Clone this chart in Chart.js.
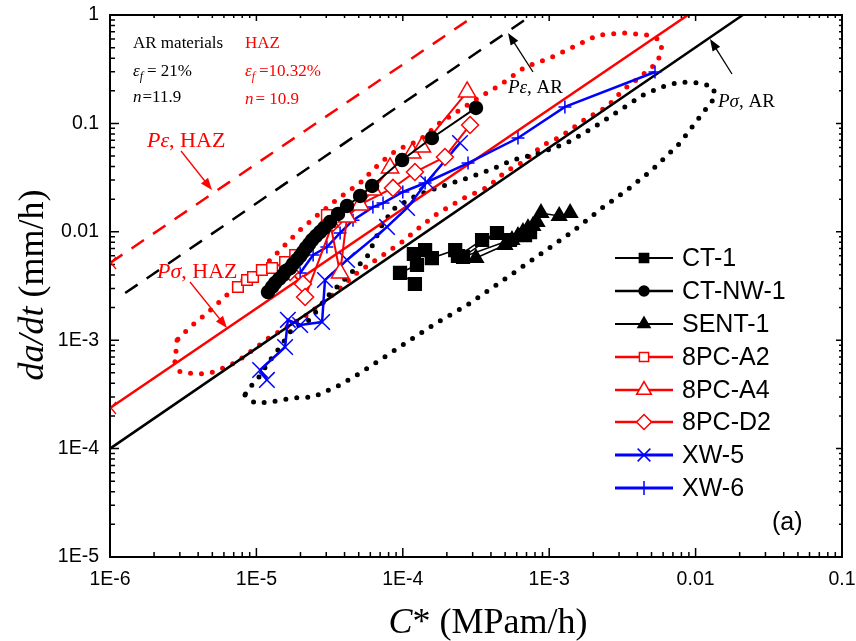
<!DOCTYPE html>
<html>
<head>
<meta charset="utf-8">
<script src="https://cdn.jsdelivr.net/npm/chart.js@4.4.1/dist/chart.umd.min.js"></script>
<style>
  html, body { margin: 0; padding: 0; background: #fff; }
  canvas { display: block; }
</style>
</head>
<body>
<canvas id="chart" width="856" height="641"></canvas>
<script>
// ---- axes ----
const xTickValues = [1e-6, 1e-5, 1e-4, 1e-3, 1e-2, 1e-1];
const xTickLabels = ['1E-6', '1E-5', '1E-4', '1E-3', '0.01', '0.1'];
const yTickValues = [1e-5, 1e-4, 1e-3, 1e-2, 1e-1, 1];
const yTickLabels = ['1E-5', '1E-4', '1E-3', '0.01', '0.1', '1'];

// ---- creep crack growth data: C* (MPa·m/h) vs da/dt (mm/h) ----
const seriesNames = ['CT-1', 'CT-NW-1', 'SENT-1', '8PC-A2', '8PC-A4', '8PC-D2', 'XW-5', 'XW-6'];

const ct1C    = [1.21e-4, 9.57e-5, 1.25e-4, 1.19e-4, 1.42e-4, 1.58e-4, 2.28e-4, 2.38e-4, 3.48e-4, 4.40e-4, 2.58e-4, 5.40e-4, 6.84e-4, 7.40e-4];
const ct1Rate = [3.30e-3, 4.17e-3, 4.94e-3, 6.24e-3, 6.79e-3, 5.73e-3, 6.79e-3, 5.98e-3, 8.40e-3, 9.75e-3, 5.86e-3, 8.40e-3, 9.34e-3, 9.95e-3];

const ctnwC    = [1.20e-5, 1.28e-5, 1.34e-5, 1.43e-5, 1.52e-5, 1.59e-5, 1.70e-5, 1.78e-5, 1.89e-5, 1.99e-5, 2.08e-5, 2.18e-5, 2.29e-5, 2.40e-5, 2.55e-5, 2.72e-5, 2.90e-5, 3.18e-5, 3.61e-5, 4.16e-5, 5.11e-5, 6.17e-5, 9.89e-5, 1.58e-4, 3.16e-4];
const ctnwRate = [2.78e-3, 3.10e-3, 3.37e-3, 3.67e-3, 3.99e-3, 4.35e-3, 4.63e-3, 5.05e-3, 5.50e-3, 5.98e-3, 6.51e-3, 7.09e-3, 7.71e-3, 8.40e-3, 9.14e-3, 9.95e-3, 1.08e-2, 1.23e-2, 1.46e-2, 1.73e-2, 2.14e-2, 2.65e-2, 4.59e-2, 7.33e-2, 0.139];

const sentC    = [3.16e-4, 4.99e-4, 5.57e-4, 6.12e-4, 6.62e-4, 7.16e-4, 7.74e-4, 8.26e-4, 8.79e-4, 1.17e-3, 1.39e-3];
const sentRate = [5.73e-3, 7.55e-3, 8.40e-3, 9.14e-3, 9.95e-3, 1.08e-2, 1.13e-2, 1.23e-2, 1.49e-2, 1.40e-2, 1.49e-2];

const a2C    = [7.48e-6, 8.63e-6, 9.48e-6, 1.09e-5, 1.28e-5, 1.57e-5, 1.84e-5, 3.03e-5];
const a2Rate = [3.10e-3, 3.59e-3, 3.83e-3, 4.44e-3, 4.63e-3, 5.26e-3, 6.11e-3, 1.43e-2];

const a4C    = [3.18e-5, 3.73e-5, 4.16e-5, 5.11e-5, 6.25e-5, 8.18e-5, 1.16e-4, 1.35e-4, 2.75e-4];
const a4Rate = [1.23e-2, 4.17e-3, 1.37e-2, 1.77e-2, 2.43e-2, 3.88e-2, 5.33e-2, 6.05e-2, 0.195];

const d2C    = [1.70e-5, 2.08e-5, 2.15e-5, 3.33e-5, 3.91e-5, 8.57e-5, 1.21e-4, 1.94e-4, 2.88e-4];
const d2Rate = [4.26e-3, 3.30e-3, 2.50e-3, 1.21e-2, 1.49e-2, 2.54e-2, 3.56e-2, 4.90e-2, 9.67e-2];

const xw5C    = [1.18e-5, 1.06e-5, 1.57e-5, 1.64e-5, 1.99e-5, 2.81e-5, 2.94e-5, 4.16e-5, 7.80e-5, 1.07e-4, 1.46e-4, 2.46e-4];
const xw5Rate = [4.30e-4, 5.31e-4, 8.65e-4, 1.54e-3, 1.38e-3, 1.47e-3, 3.59e-3, 5.50e-3, 1.11e-2, 1.66e-2, 2.88e-2, 6.59e-2];

const xw6C    = [1.99e-5, 2.44e-5, 3.03e-5, 3.73e-5, 4.57e-5, 6.25e-5, 7.33e-5, 1.00e-4, 1.42e-4, 2.79e-4, 6.12e-4, 1.28e-3, 5.28e-3];
const xw6Rate = [4.17e-3, 6.11e-3, 7.24e-3, 9.75e-3, 1.28e-2, 1.69e-2, 1.84e-2, 2.33e-2, 2.82e-2, 4.31e-2, 7.33e-2, 0.142, 0.298];

// ---- scatter bands (closed outlines) ----
const arBandC = [8.36e-6, 9.77e-6, 1.24e-5, 1.78e-5, 2.44e-5, 3.73e-5, 5.11e-5, 7.33e-5, 1.07e-4, 1.74e-4, 2.75e-4, 4.06e-4, 5.83e-4, 8.93e-4, 1.43e-3, 2.30e-3, 3.40e-3, 5.04e-3, 7.82e-3, 1.07e-2, 1.36e-2, 1.32e-2, 1.07e-2, 7.82e-3, 5.89e-3, 4.38e-3, 3.05e-3, 1.99e-3, 1.32e-3, 8.65e-4, 5.66e-4, 3.94e-4, 2.75e-4, 1.88e-4, 1.25e-4, 8.85e-5, 7.33e-5, 5.69e-5, 4.16e-5, 3.03e-5, 2.32e-5, 1.78e-5, 1.45e-5, 1.20e-5, 1.01e-5, 8.63e-6, 8.36e-6];
const arBandRate = [3.12e-4, 2.63e-4, 2.69e-4, 2.93e-4, 2.99e-4, 3.86e-4, 4.98e-4, 6.85e-4, 9.62e-4, 1.47e-3, 2.11e-3, 3.03e-3, 4.26e-3, 6.37e-3, 9.95e-3, 1.66e-2, 2.43e-2, 3.72e-2, 6.59e-2, 0.115, 0.175, 0.217, 0.236, 0.241, 0.217, 0.183, 0.133, 9.08e-2, 6.59e-2, 5.33e-2, 4.59e-2, 3.72e-2, 3.13e-2, 2.65e-2, 2.18e-2, 1.66e-2, 1.21e-2, 5.86e-3, 3.83e-3, 2.50e-3, 1.54e-3, 1.30e-3, 8.65e-4, 6.17e-4, 4.30e-4, 3.47e-4, 3.12e-4];

const hazBandC = [2.87e-6, 2.82e-6, 2.74e-6, 3.01e-6, 3.93e-6, 4.82e-6, 5.92e-6, 7.36e-6, 9.04e-6, 1.24e-5, 1.70e-5, 2.22e-5, 3.18e-5, 4.86e-5, 7.33e-5, 9.89e-5, 1.37e-4, 1.71e-4, 2.54e-4, 3.82e-4, 4.99e-4, 6.62e-4, 9.08e-4, 1.19e-3, 1.81e-3, 2.48e-3, 3.19e-3, 4.17e-3, 5.44e-3, 5.89e-3, 5.71e-3, 4.66e-3, 3.30e-3, 2.15e-3, 1.46e-3, 1.01e-3, 6.84e-4, 4.61e-4, 3.27e-4, 2.46e-4, 1.79e-4, 1.31e-4, 9.12e-5, 6.98e-5, 5.11e-5, 3.73e-5, 2.72e-5, 1.99e-5, 1.45e-5, 1.11e-5, 8.09e-6, 6.29e-6, 4.61e-6, 3.52e-6, 2.87e-6];
const hazBandRate = [1.00e-3, 7.78e-4, 6.56e-4, 5.09e-4, 4.88e-4, 4.98e-4, 5.54e-4, 6.30e-4, 7.78e-4, 1.07e-3, 1.38e-3, 1.71e-3, 2.50e-3, 4.17e-3, 6.11e-3, 8.05e-3, 1.16e-2, 1.46e-2, 2.01e-2, 2.59e-2, 3.56e-2, 4.41e-2, 6.32e-2, 7.50e-2, 0.112, 0.142, 0.203, 0.268, 0.361, 0.475, 0.588, 0.654, 0.682, 0.654, 0.507, 0.401, 0.331, 0.226, 0.171, 0.133, 0.101, 7.03e-2, 5.69e-2, 4.31e-2, 2.82e-2, 2.09e-2, 1.49e-2, 1.04e-2, 6.79e-3, 4.73e-3, 3.59e-3, 2.61e-3, 1.78e-3, 1.32e-3, 1.00e-3];

// ---- predicted lines (end points) ----
const pSigmaArC = [1e-6, 2.1e-2];      const pSigmaArRate = [1e-4, 1];
const pSigmaHazC = [1e-6, 8.87e-3];    const pSigmaHazRate = [2.37e-4, 1];
const pEpsArC = [1.27e-6, 6.8e-4];     const pEpsArRate = [2.72e-3, 0.90];
const pEpsHazC = [1e-6, 3.15e-4];      const pEpsHazRate = [5.15e-3, 1];

const pts = (xs, ys) => xs.map((v, i) => ({ x: v, y: ys[i] }));

const RED = '#ff0000', BLUE = '#0000ff', BLACK = '#000000';

// marker / line styles for the eight test series
const seriesStyles = [
  { c: ct1C, r: ct1Rate, color: BLACK, style: 'rect', radius: 9, fill: BLACK, lw: 1.5, lr: 6.5 },
  { c: ctnwC, r: ctnwRate, color: BLACK, style: 'circle', radius: 6.5, fill: BLACK, lw: 2, lr: 5 },
  { c: sentC, r: sentRate, color: BLACK, style: 'triangle', radius: 8.5, fill: BLACK, lw: 1.5, lr: 7 },
  { c: a2C, r: a2Rate, color: RED, style: 'rect', radius: 7.5, fill: '#ffffff', lw: 2, lr: 6.5 },
  { c: a4C, r: a4Rate, color: RED, style: 'triangle', radius: 10, fill: '#ffffff', lw: 2, lr: 8.5 },
  { c: d2C, r: d2Rate, color: RED, style: 'rectRot', radius: 8.5, fill: '#ffffff', lw: 2, lr: 7.5 },
  { c: xw5C, r: xw5Rate, color: BLUE, style: 'crossRot', radius: 11, fill: BLUE, lw: 2.5, lr: 9 },
  { c: xw6C, r: xw6Rate, color: BLUE, style: 'cross', radius: 6.5, fill: BLUE, lw: 2.5, lr: 7 }
];

const datasets = [];
seriesStyles.forEach((s, i) => {
  datasets.push({
    label: seriesNames[i],
    data: pts(s.c, s.r),
    showLine: true,
    borderColor: s.color,
    borderWidth: s.lw,
    pointStyle: s.style,
    pointRadius: s.radius,
    pointBorderColor: s.color,
    pointBackgroundColor: s.fill,
    pointBorderWidth: 1.5,
    order: i + 1
  });
});

const band = (label, data, color) => ({
  label, data, showLine: true, borderColor: color, borderWidth: 5,
  borderDash: [0, 11], borderCapStyle: 'round', pointRadius: 0, order: 20
});
datasets.push(band('AR scatter band', pts(arBandC, arBandRate), BLACK));
datasets.push(band('HAZ scatter band', pts(hazBandC, hazBandRate), RED));

const trend = (label, data, color, dash) => ({
  label, data, showLine: true, borderColor: color, borderWidth: 2.5,
  borderDash: dash, pointRadius: 0, order: 15
});
datasets.push(trend('Pσ, AR', pts(pSigmaArC, pSigmaArRate), BLACK, []));
datasets.push(trend('Pσ, HAZ', pts(pSigmaHazC, pSigmaHazRate), RED, []));
datasets.push(trend('Pε, AR', pts(pEpsArC, pEpsArRate), BLACK, [15, 11]));
datasets.push(trend('Pε, HAZ', pts(pEpsHazC, pEpsHazRate), RED, [15, 11]));

const SERIF = '"Liberation Serif", "Times New Roman", serif';
const SANS = '"Liberation Sans", Arial, sans-serif';

function drawRuns(ctx, x, y, runs) {
  let cx = x;
  for (const r of runs) {
    ctx.font = r.f;
    ctx.fillStyle = r.c;
    ctx.fillText(r.t, cx, y + (r.dy || 0));
    cx += ctx.measureText(r.t).width + (r.gap || 0);
  }
  return cx;
}
function runsWidth(ctx, runs) {
  let w = 0;
  for (const r of runs) { ctx.font = r.f; w += ctx.measureText(r.t).width + (r.gap || 0); }
  return w;
}
function arrow(ctx, x0, y0, x1, y1, color) {
  const ang = Math.atan2(y1 - y0, x1 - x0);
  const len = 12, half = 4.5;
  ctx.strokeStyle = color; ctx.fillStyle = color; ctx.lineWidth = 1.3;
  ctx.beginPath();
  ctx.moveTo(x0, y0);
  ctx.lineTo(x1 - Math.cos(ang) * len * 0.8, y1 - Math.sin(ang) * len * 0.8);
  ctx.stroke();
  ctx.beginPath();
  ctx.moveTo(x1, y1);
  ctx.lineTo(x1 - Math.cos(ang) * len - Math.sin(ang) * half, y1 - Math.sin(ang) * len + Math.cos(ang) * half);
  ctx.lineTo(x1 - Math.cos(ang) * len + Math.sin(ang) * half, y1 - Math.sin(ang) * len - Math.cos(ang) * half);
  ctx.closePath();
  ctx.fill();
}

const decorations = {
  id: 'decorations',
  afterDraw(chart) {
    const { ctx, chartArea: a, scales } = chart;
    const xs = scales.x, ys = scales.y;
    ctx.save();

    // frame
    ctx.strokeStyle = BLACK;
    ctx.lineWidth = 2;
    ctx.strokeRect(a.left, a.top, a.right - a.left, a.bottom - a.top);

    // inward tick marks on all four sides
    ctx.lineWidth = 1.5;
    ctx.beginPath();
    for (let d = -6; d <= -1; d++) {
      for (let m = 1; m <= 9; m++) {
        const v = m * Math.pow(10, d);
        if (v > 0.1000001) break;
        const px = xs.getPixelForValue(v);
        const major = m === 1;
        ctx.moveTo(px, a.bottom); ctx.lineTo(px, a.bottom - (major ? 9 : 5));
        ctx.moveTo(px, a.top); ctx.lineTo(px, a.top + (major ? 6 : 3));
      }
    }
    for (let d = -5; d <= 0; d++) {
      for (let m = 1; m <= 9; m++) {
        const v = m * Math.pow(10, d);
        if (v > 1.000001) break;
        const py = ys.getPixelForValue(v);
        const major = m === 1;
        ctx.moveTo(a.left, py); ctx.lineTo(a.left + (major ? 9 : 5), py);
        ctx.moveTo(a.right, py); ctx.lineTo(a.right - (major ? 6 : 3), py);
      }
    }
    ctx.stroke();

    // small chevrons where the HAZ lines meet the left axis
    ctx.strokeStyle = RED; ctx.lineWidth = 1.3;
    [pSigmaHazRate[0], pEpsHazRate[0]].forEach(v => {
      const py = ys.getPixelForValue(v);
      ctx.beginPath();
      ctx.moveTo(a.left + 6, py - 6); ctx.lineTo(a.left + 1, py); ctx.lineTo(a.left + 6, py + 6);
      ctx.stroke();
    });

    // axis titles
    ctx.textBaseline = 'alphabetic';
    const xt = [
      { t: 'C', f: 'italic 36px ' + SERIF, c: BLACK },
      { t: '* (MPam/h)', f: '36px ' + SERIF, c: BLACK }
    ];
    drawRuns(ctx, 488 - runsWidth(ctx, xt) / 2, 633, xt);
    const yt = [
      { t: 'da/dt', f: 'italic 36px ' + SERIF, c: BLACK },
      { t: ' (mm/h)', f: '36px ' + SERIF, c: BLACK }
    ];
    ctx.save();
    ctx.translate(43, 285);
    ctx.rotate(-Math.PI / 2);
    drawRuns(ctx, -runsWidth(ctx, yt) / 2, 0, yt);
    ctx.restore();

    // material parameters
    const f17 = '17px ' + SERIF, i17 = 'italic 17px ' + SERIF, i12 = 'italic 12px ' + SERIF;
    drawRuns(ctx, 133, 48, [{ t: 'AR materials', f: f17, c: BLACK }]);
    drawRuns(ctx, 133, 76, [{ t: 'ε', f: i17, c: BLACK }, { t: 'f', f: i12, c: BLACK, dy: 4, gap: 4 }, { t: '= 21%', f: f17, c: BLACK }]);
    drawRuns(ctx, 133, 102, [{ t: 'n', f: i17, c: BLACK, gap: 1 }, { t: '=11.9', f: f17, c: BLACK }]);
    drawRuns(ctx, 245, 48, [{ t: 'HAZ', f: f17, c: RED }]);
    drawRuns(ctx, 245, 76, [{ t: 'ε', f: i17, c: RED }, { t: 'f', f: i12, c: RED, dy: 4, gap: 4 }, { t: '=10.32%', f: f17, c: RED }]);
    drawRuns(ctx, 245, 104, [{ t: 'n', f: i17, c: RED, gap: 2 }, { t: '= 10.9', f: f17, c: RED }]);

    // line labels with arrows
    const i22 = 'italic 22px ' + SERIF, f22 = '22px ' + SERIF;
    drawRuns(ctx, 147, 147, [{ t: 'Pε', f: i22, c: RED }, { t: ', HAZ', f: f22, c: RED }]);
    arrow(ctx, 181, 151, 212, 190, RED);
    drawRuns(ctx, 157, 278, [{ t: 'Pσ', f: i22, c: RED }, { t: ', HAZ', f: f22, c: RED }]);
    arrow(ctx, 190, 282, 227, 328, RED);
    drawRuns(ctx, 508, 93, [{ t: 'Pε', f: 'italic 19px ' + SERIF, c: BLACK }, { t: ', AR', f: '19px ' + SERIF, c: BLACK }]);
    arrow(ctx, 533, 72, 508, 33, BLACK);
    drawRuns(ctx, 718, 107, [{ t: 'Pσ', f: 'italic 19px ' + SERIF, c: BLACK }, { t: ', AR', f: '19px ' + SERIF, c: BLACK }]);
    arrow(ctx, 732, 74, 710, 39, BLACK);

    // legend
    const rows = [258, 291, 324, 357, 390, 422, 455, 488];
    seriesStyles.forEach((s, i) => {
      const y = rows[i];
      ctx.strokeStyle = s.color; ctx.lineWidth = s.lw + 0.5;
      ctx.beginPath(); ctx.moveTo(615, y); ctx.lineTo(673, y); ctx.stroke();
      ctx.fillStyle = s.fill; ctx.strokeStyle = s.color; ctx.lineWidth = 1.5;
      Chart.helpers.drawPoint(ctx, { pointStyle: s.style, radius: s.lr, rotation: 0, borderWidth: 1.5 }, 644, y);
      ctx.font = '25px ' + SANS; ctx.fillStyle = BLACK; ctx.textBaseline = 'middle';
      ctx.fillText(seriesNames[i], 682, y + 1);
    });
    ctx.fillText('(a)', 772, 523);
    ctx.restore();
  }
};

new Chart(document.getElementById('chart'), {
  type: 'scatter',
  data: { datasets },
  options: {
    responsive: false,
    animation: false,
    devicePixelRatio: 1,
    layout: { padding: { top: 15, right: 14, left: 0, bottom: 0 } },
    plugins: { legend: { display: false }, tooltip: { enabled: false } },
    elements: { line: { tension: 0 } },
    scales: {
      x: {
        type: 'logarithmic', min: 1e-6, max: 0.1, position: 'bottom',
        grid: { display: false, drawTicks: false }, border: { display: false },
        afterBuildTicks: s => { s.ticks = xTickValues.map(v => ({ value: v })); },
        afterFit: s => { s.height = 84; s.paddingLeft = 0; s.paddingRight = 0; },
        ticks: {
          autoSkip: false, maxRotation: 0, padding: 11, color: BLACK,
          font: { family: SANS, size: 19.5 },
          callback: v => { const i = xTickValues.findIndex(t => Math.abs(t - v) / t < 1e-6); return i >= 0 ? xTickLabels[i] : ''; }
        }
      },
      y: {
        type: 'logarithmic', min: 1e-5, max: 1, position: 'left',
        grid: { display: false, drawTicks: false }, border: { display: false },
        afterBuildTicks: s => { s.ticks = yTickValues.map(v => ({ value: v })); },
        afterFit: s => { s.width = 110; s.paddingTop = 0; s.paddingBottom = 0; },
        ticks: {
          autoSkip: false, padding: 11, color: BLACK,
          font: { family: SANS, size: 19.5 },
          callback: v => { const i = yTickValues.findIndex(t => Math.abs(t - v) / t < 1e-6); return i >= 0 ? yTickLabels[i] : ''; }
        }
      }
    }
  },
  plugins: [decorations]
});
</script>
</body>
</html>
